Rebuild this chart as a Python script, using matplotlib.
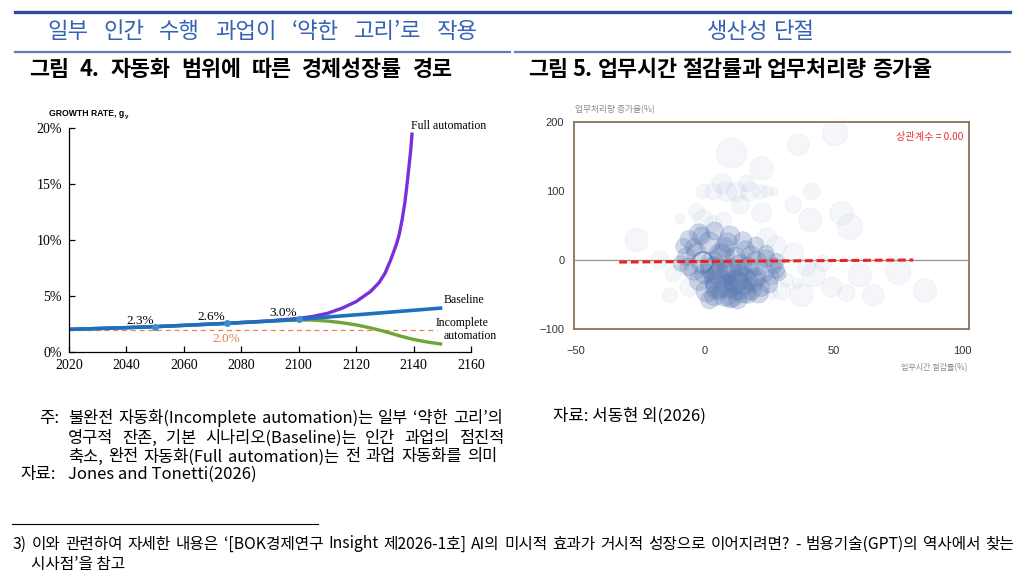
import matplotlib
matplotlib.use('Agg')
import matplotlib.pyplot as plt
from matplotlib.lines import Line2D

W, H = 1022, 582
KR = ['Noto Sans CJK KR', 'DejaVu Sans']
SERIF = ['Liberation Serif', 'DejaVu Serif']

# ---- figure 4 data (growth rate, %)
base_years = [2020, 2035, 2050, 2062, 2075, 2088, 2100, 2125, 2150]
baseline = [2.02, 2.13, 2.26, 2.40, 2.56, 2.73, 2.92, 3.42, 3.93]
full_years = [2020, 2050, 2075, 2090, 2100, 2105, 2110, 2115, 2120, 2125, 2128,
              2130, 2132, 2134, 2135, 2136, 2137, 2138, 2139, 2139.5]
full_auto = [2.02, 2.26, 2.56, 2.78, 3.0, 3.18, 3.45, 3.9, 4.5, 5.4, 6.2,
             7.0, 8.2, 9.6, 10.5, 11.8, 13.4, 15.6, 18.0, 19.6]
inc_years = [2020, 2050, 2075, 2090, 2100, 2105, 2110, 2115, 2120, 2125, 2130,
             2135, 2140, 2145, 2150]
incomplete = [2.02, 2.26, 2.56, 2.76, 2.86, 2.85, 2.76, 2.62, 2.42, 2.15, 1.83,
              1.45, 1.12, 0.88, 0.70]
mark_years = [2050, 2075, 2100]
mark_vals = [2.26, 2.56, 2.92]
mark_labels = ['2.3%', '2.6%', '3.0%']
ref_level = 2.0

# ---- figure 5 data: outer bubbles (x: 업무시간 절감률, y: 업무처리량 증가율, r: bubble radius)
out_x = [10.6, 22.2, 36.4, 50.7, 41.6, 34.5, 22.2, 41.0, 53.2, 56.5, -26.2,
         -0.4, 3.5, 8.7, 12.5, 17.7, 21.6, 24.2, 26.8, 6.8, 16.4,
         -9.4, -0.4, 3.5, 7.4, 24.2, -17.2, -13.3, 26.1, 37.7, 42.3,
         49.4, 55.2, 65.5, 60.3, 75.2, 85.5, 46.1, 34.5, 39.7, 32.0, 36.0,
         -12.0, -6.0, 28.0, 30.0, -3.0, 14.0]
out_y = [155, 133, 167, 184, 99, 80, 68, 58, 68, 48, 29,
         99, 99, 99, 99, 99, 99, 99, 99, 111, 111,
         60, 58, 53, 58, 32, 0, -51, -48, -51, -22,
         -39, -48, -51, -22, -17, -44, -5, 10, -10, -29, -34,
         -20, -40, 20, -45, 70, 80]
out_r = [15, 11.7, 10.7, 12.7, 8.3, 8.3, 10, 11.7, 11.7, 12.7, 11.7,
         7.3, 8.3, 10, 10, 9.3, 7.3, 6, 4, 10, 8.3,
         5, 10, 8, 8, 10, 9.3, 7.3, 6, 11.7, 11.7,
         10, 8.3, 10.7, 11.7, 12.7, 11.7, 8.3, 10, 9, 6.7, 5,
         8, 9, 10, 9, 8, 9]

# dense core bubbles
core_x = [-6, -2, 4, 10, 15, 2, -4, 8, 20,
          -7, 6, 12, 18, 24, 28, -9,
          -4, 3, 10, 17, 23, 28,
          -2, 5, 12, 19, 25,
          1, 8, 15, 21,
          4, 11, 17,
          7, 13, 3, 9, 14,
          5, 10, 0, 14, 20, -3, 9, 16, 22, 26,
          -6, 2, 13, 6, 12, 18, -1, 7, 24, -8,
          27, 29, 20, 4, 15]
core_y = [30, 38, 42, 35, 28, 25, 18, 18, 22,
          5, 8, 4, 6, 2, -2, -5,
          -15, -12, -15, -12, -18, -15,
          -30, -28, -32, -30, -35,
          -45, -48, -45, -48,
          -52, -54, -50,
          -20, -38, -5, -38, -25,
          -40, -55, -20, -8, -25, 10, 25, 15, -40, -25,
          -10, -58, -58, -35, -20, -42, 35, 5, 10, 20,
          -8, -20, -5, -15, -30]
core_r = [9, 10, 9, 10, 9, 11, 9, 10, 8,
          9, 11, 10, 10, 9, 8, 8,
          10, 12, 12, 11, 10, 8,
          10, 13, 12, 11, 9,
          11, 13, 12, 10,
          10, 10, 9,
          14, 14, 12, 12, 13,
          12, 10, 10, 11, 10, 10, 10, 9, 9, 8,
          9, 9, 9, 14, 13, 11, 9, 12, 8, 8,
          8, 7, 12, 13, 14]
# the ring of near-identical bubbles around the origin
ring_x = [-0.5, -0.3, -0.8]
ring_y = [-3, -2, -4]
ring_r = [10, 9.5, 10.5]
fit_x = [-33, 81]
fit_y = [-3, 0]


def fx(x):
    return x / W


def fy(y):
    return 1 - y / H


def justify(x0, x1, y, text, **kw):
    # spread the words of one line evenly between x0 and x1 (pixels)
    words = text.split(' ')
    rend = fig.canvas.get_renderer()
    arts = [fig.text(0, fy(y), w, ha='left', va='center', **kw) for w in words]
    widths = [a.get_window_extent(rend).width for a in arts]
    gap = (x1 - x0 - sum(widths)) / (len(words) - 1)
    x = x0
    for a, w in zip(arts, widths):
        a.set_x(fx(x))
        x += w + gap


fig = plt.figure(figsize=(W / 100, H / 100), dpi=100)
fig.patch.set_facecolor('white')

# page rules and headings
fig.add_artist(Line2D([fx(15), fx(1010)], [fy(12), fy(12)], transform=fig.transFigure,
                      color='#2c4e96', lw=2.4))
fig.add_artist(Line2D([fx(15), fx(510)], [fy(52), fy(52)], transform=fig.transFigure,
                      color='#5b7fba', lw=1.6))
fig.add_artist(Line2D([fx(515), fx(1010)], [fy(52), fy(52)], transform=fig.transFigure,
                      color='#5b7fba', lw=1.6))
justify(47, 478, 32, '일부 인간 수행 과업이 ‘약한 고리’로 작용', family=KR, fontsize=16,
        color='#3463b5')
justify(707, 815, 32, '생산성 단절', family=KR, fontsize=16, color='#3463b5')
justify(29, 453, 70, '그림 4. 자동화 범위에 따른 경제성장률 경로', family=KR, fontsize=15.7,
        fontweight='bold')
justify(528, 932, 70, '그림 5. 업무시간 절감률과 업무처리량 증가율', family=KR, fontsize=15.7,
        fontweight='bold')

# ---- figure 4
ax1 = fig.add_axes([fx(69), fy(352), (471 - 69) / W, (352 - 128) / H])
ax1.plot([2020, 2148], [ref_level, ref_level], color='#e5865a', lw=0.9, dashes=(4, 3))
ax1.plot(full_years, full_auto, color='#7b2fdc', lw=2.4, clip_on=False, solid_capstyle='butt')
ax1.plot(inc_years, incomplete, color='#6ea535', lw=2.4, solid_capstyle='butt')
ax1.plot(base_years, baseline, color='#1f6fc0', lw=2.6, solid_capstyle='butt')
ax1.plot(mark_years, mark_vals, 'o', color='#3d8ad0', ms=4)
for yr, v, lab in zip(mark_years, mark_vals, mark_labels):
    ax1.text(yr - 5.3, v + 0.55, lab, family=SERIF, fontsize=9.5, ha='center', va='center')
ax1.text(2074.7, 1.15, '2.0%', family=SERIF, fontsize=9.5, color='#e07a55', ha='center', va='center')
ax1.text(2139, 20.2, 'Full automation', family=SERIF, fontsize=8.5, ha='left', va='center', clip_on=False)
ax1.text(2150.5, 4.65, 'Baseline', family=SERIF, fontsize=8.5, ha='left', va='center', clip_on=False)
ax1.text(2157, 2.6, 'Incomplete', family=SERIF, fontsize=8.5, ha='center', va='center', clip_on=False)
ax1.text(2169, 1.45, 'automation', family=SERIF, fontsize=8.5, ha='right', va='center', clip_on=False)
gr = fig.text(fx(49), fy(114), 'GROWTH RATE, g', family='Liberation Sans',
              fontsize=6.2, fontweight='bold', ha='left', va='center')
gx = gr.get_window_extent(fig.canvas.get_renderer()).x1
fig.text(fx(gx + 0.5), fy(116.5), 'y', family='Liberation Sans', fontsize=4.5,
         fontweight='bold', ha='left', va='center')
ax1.set_xlim(2020, 2160)
ax1.set_ylim(0, 20)
ax1.set_xticks(range(2020, 2161, 20))
ax1.set_yticks([0, 5, 10, 15, 20])
ax1.set_yticklabels(['0%', '5%', '10%', '15%', '20%'])
ax1.spines['top'].set_visible(False)
ax1.spines['right'].set_visible(False)
ax1.spines['left'].set_linewidth(0.9)
ax1.spines['bottom'].set_linewidth(0.9)
ax1.tick_params(direction='in', length=4, width=0.9, labelsize=10, pad=5)
for lab in ax1.get_xticklabels() + ax1.get_yticklabels():
    lab.set_family(SERIF)

# ---- figure 5
ax2 = fig.add_axes([fx(574), fy(329), (969 - 574) / W, (329 - 122) / H])
ax2.scatter(out_x, out_y, s=[2.07 * r * r for r in out_r], facecolor='#7793c8', alpha=0.08,
            edgecolor='#4d6aa5', linewidth=0.5, zorder=2)
ax2.scatter(core_x, core_y, s=[2.07 * r * r for r in core_r], facecolor='#5a78b2', alpha=0.27,
            edgecolor='#5a78b2', linewidth=0.4, zorder=3)
ax2.scatter(ring_x, ring_y, s=[2.07 * r * r for r in ring_r], facecolor='none', alpha=0.22,
            edgecolor='#3a5590', linewidth=1.0, zorder=3)
ax2.axhline(0, color='#a09488', lw=0.9, zorder=4)
ax2.plot(fit_x, fit_y, color='#ec2227', lw=2.2, dashes=(2.6, 1.2), zorder=5)
ax2.text(0.985, 0.927, '상관계수 = 0.00', transform=ax2.transAxes, family=KR, fontsize=7.3,
         color='#e5303a', ha='right', va='center')
ax2.set_xlim(-50.5, 102.6)
ax2.set_ylim(-100, 200)
ax2.set_xticks([-50, 0, 50, 100])
ax2.set_yticks([-100, 0, 100, 200])
for sp in ax2.spines.values():
    sp.set_color('#8b735a')
    sp.set_linewidth(1.3)
ax2.tick_params(axis='both', length=0, labelsize=8, colors='#333333')
ax2.tick_params(axis='x', pad=12)
ax2.tick_params(axis='y', pad=7)
for lab in ax2.get_xticklabels() + ax2.get_yticklabels():
    lab.set_family(['Liberation Sans', 'DejaVu Sans'])
fig.text(fx(575), fy(110), '업무처리량 증가율(%)', family=KR, fontsize=6.3, color='#8a8a8a',
         ha='left', va='center')
fig.text(fx(967), fy(368), '업무시간 절감률(%)', family=KR, fontsize=5.8, color='#8a8a8a',
         ha='right', va='center')

# ---- notes and sources
note_lines = ['불완전 자동화(Incomplete automation)는 일부 ‘약한 고리’의',
              '영구적 잔존, 기본 시나리오(Baseline)는 인간 과업의 점진적',
              '축소, 완전 자동화(Full automation)는 전 과업 자동화를 의미']
note_y = [418, 438, 457]
note_end = [503, 504, 497]
fig.text(fx(39), fy(418), '주:', family=KR, fontsize=12, ha='left', va='center')
for t, yy, xe in zip(note_lines, note_y, note_end):
    justify(68, xe, yy, t, family=KR, fontsize=11.8)
fig.text(fx(20), fy(474), '자료:', family=KR, fontsize=12, ha='left', va='center')
fig.text(fx(68), fy(474), 'Jones and Tonetti(2026)', family=KR, fontsize=12, ha='left', va='center')
fig.text(fx(553), fy(416), '자료: 서동현 외(2026)', family=KR, fontsize=12, ha='left', va='center')

fig.add_artist(Line2D([fx(12), fx(318)], [fy(524), fy(524)], transform=fig.transFigure,
                      color='black', lw=0.8))
justify(13, 1014, 544, '3) 이와 관련하여 자세한 내용은 ‘[BOK경제연구 Insight 제2026-1호] AI의 미시적 효과가 '
        '거시적 성장으로 이어지려면? - 범용기술(GPT)의 역사에서 찾는', family=KR, fontsize=11.3)
fig.text(fx(31), fy(564), '시사점’을 참고', family=KR, fontsize=11.3, ha='left', va='center')

fig.savefig('out.png', dpi=100)
